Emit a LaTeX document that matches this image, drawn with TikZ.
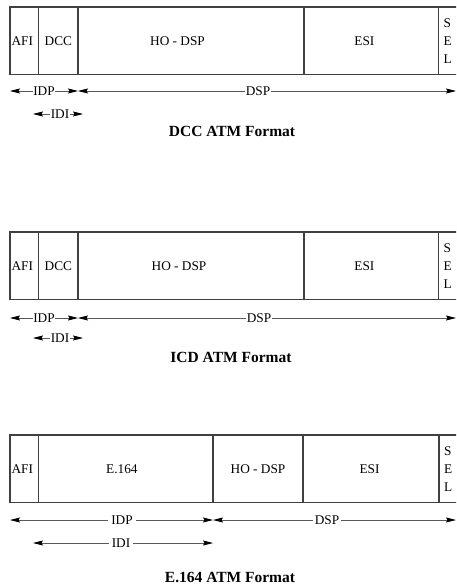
\documentclass[tikz,border=0pt]{standalone}
\usepackage{fontspec}
\setmainfont{Liberation Serif}
\usetikzlibrary{arrows.meta, positioning}

\begin{document}
\begin{tikzpicture}[
  x=1pt, y=-1pt,
  node distance=0pt,
  every node/.style={font=\fontsize{13.3}{18}\selectfont},
  field/.style={rectangle, draw=black!75, line width=1.2pt, inner sep=0pt,
                outer sep=0pt, minimum height=67.5pt, align=center},
  selfield/.style={field, align=left, text width=22pt, inner xsep=5pt},
  shifted/.style={execute at begin node={\hspace*{#1}}},
  span/.style={inner sep=0.5pt},
  arr/.style={-{Stealth[length=10pt, width=5pt, inset=1.5pt, color=black]},
              line width=0.8pt, black!65},
  caption/.style={font=\fontsize{15.5}{18}\selectfont\bfseries}
]
  \clip (0,0) rectangle (456,586);

  % DCC ATM format
  \node[field, minimum width=28.7pt, anchor=north west, shifted=-4pt] (afi1) at (10,7) {AFI};
  \node[field, minimum width=39.3pt, right=of afi1] (dcc1) {DCC};
  \node[field, minimum width=226pt, right=of dcc1, shifted=-27pt] (ho1) {HO - DSP};
  \node[field, minimum width=134.7pt, right=of ho1, shifted=-14pt] (esi1) {ESI};
  \node[selfield, right=of esi1] (sel1) {S\\E\\L};

  \node[span] (idp1) at (44,91) {IDP};
  \node[span] (dsp1) at (258,91) {DSP};
  \node[span] (idi1) at (60,114) {IDI};
  \coordinate (end1) at (456,91);
  \coordinate (idil1) at (33,114);
  \coordinate (idir1) at (83,114);
  \draw[arr] (idp1) -- (idp1 -| afi1.west);
  \draw[arr] (idp1) -- (idp1 -| dcc1.east);
  \draw[arr] (dsp1) -- (dsp1 -| dcc1.east);
  \draw[arr] (dsp1) -- (end1);
  \draw[arr] (idi1) -- (idil1);
  \draw[arr] (idi1) -- (idir1);
  \node[caption] (cap1) at (232,131) {DCC ATM Format};

  % ICD ATM format
  \node[field, minimum width=28.7pt, anchor=north west, shifted=-4pt] (afi2) at (10,232) {AFI};
  \node[field, minimum width=39.3pt, right=of afi2] (dcc2) {DCC};
  \node[field, minimum width=226pt, right=of dcc2, shifted=-24pt] (ho2) {HO - DSP};
  \node[field, minimum width=134.7pt, right=of ho2, shifted=-14pt] (esi2) {ESI};
  \node[selfield, right=of esi2] (sel2) {S\\E\\L};

  \node[span] (idp2) at (44,318) {IDP};
  \node[span] (dsp2) at (259,318) {DSP};
  \node[span] (idi2) at (60,338) {IDI};
  \coordinate (end2) at (456,318);
  \coordinate (idil2) at (33,338);
  \coordinate (idir2) at (83,338);
  \draw[arr] (idp2) -- (idp2 -| afi2.west);
  \draw[arr] (idp2) -- (idp2 -| dcc2.east);
  \draw[arr] (dsp2) -- (dsp2 -| dcc2.east);
  \draw[arr] (dsp2) -- (end2);
  \draw[arr] (idi2) -- (idil2);
  \draw[arr] (idi2) -- (idir2);
  \node[caption] (cap2) at (231,357) {ICD ATM Format};

  % E.164 ATM format
  \node[field, minimum width=28.7pt, anchor=north west, shifted=-4pt] (afi3) at (10,435) {AFI};
  \node[field, minimum width=174.3pt, right=of afi3, shifted=-8pt] (e1643) {E.164};
  \node[field, minimum width=90pt, right=of e1643] (ho3) {HO - DSP};
  \node[field, minimum width=136pt, right=of ho3, shifted=-3pt] (esi3) {ESI};
  \node[selfield, right=of esi3] (sel3) {S\\E\\L};

  \node[span, inner xsep=3pt] (idp3) at (122,520) {IDP};
  \node[span, inner xsep=2pt] (dsp3) at (327,520) {DSP};
  \node[span, inner xsep=3pt] (idi3) at (121,543) {IDI};
  \coordinate (end3) at (456,520);
  \coordinate (idil3) at (33,543);
  \draw[arr] (idp3) -- (idp3 -| afi3.west);
  \draw[arr] (idp3) -- (idp3 -| e1643.east);
  \draw[arr] (dsp3) -- (dsp3 -| e1643.east);
  \draw[arr] (dsp3) -- (end3);
  \draw[arr] (idi3) -- (idil3);
  \draw[arr] (idi3) -- (idi3 -| e1643.east);
  \node[caption] (cap3) at (230,577) {E.164 ATM Format};
\end{tikzpicture}
\end{document}
